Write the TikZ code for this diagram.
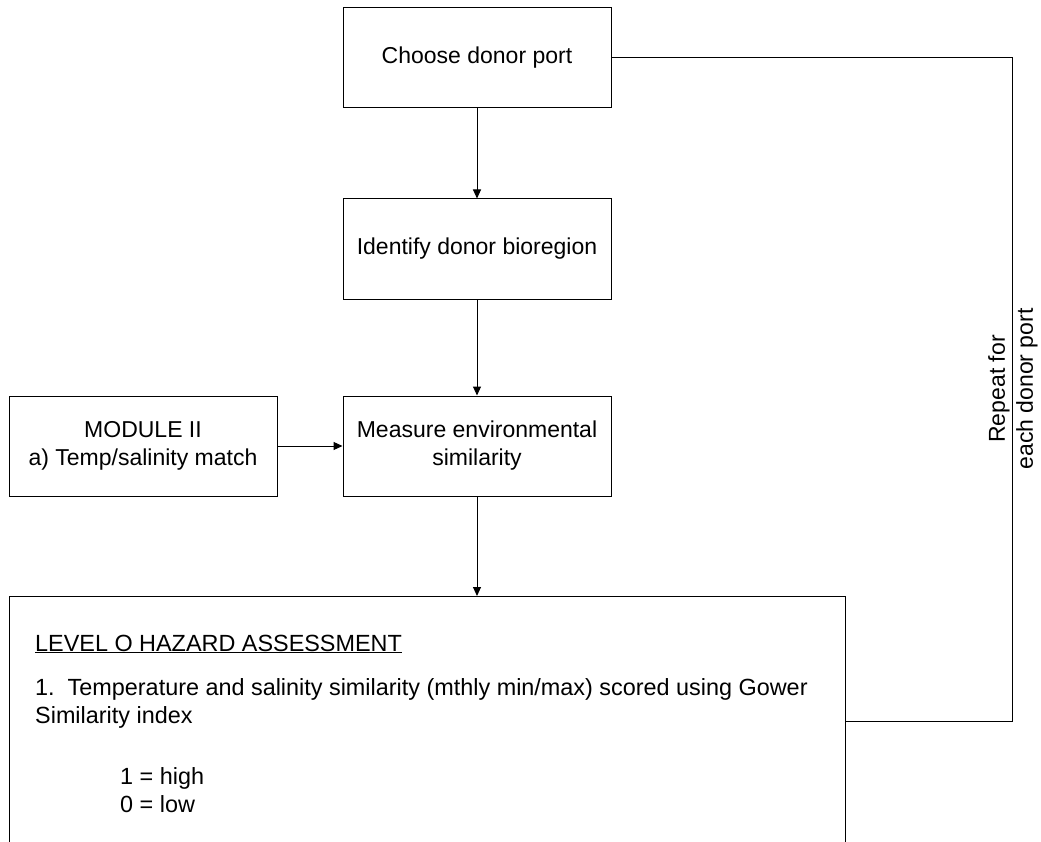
\documentclass[tikz,border=0pt]{standalone}
\usepackage{fontspec}
\setmainfont{Liberation Sans}
\usetikzlibrary{arrows.meta}
\begin{document}
\begin{tikzpicture}[x=1pt,y=-1pt,
  box/.style={draw, line width=1pt, minimum width=268pt, minimum height=100pt,
    inner sep=0pt, align=center, font=\fontsize{23}{28}\selectfont},
  flow/.style={line width=1pt, -{Triangle[width=8pt,length=9pt]}},
  link/.style={line width=1pt},
  txt/.style={anchor=base west, inner sep=0pt, font=\fontsize{23.4}{28}\selectfont}]
\useasboundingbox (0,0) rectangle (1041,842);
\clip (0,0) rectangle (1041,842);

% main chain of steps
\node[box] (choose)   at (477,58)  {Choose donor port};
\node[box] (identify) at (477,249) {Identify donor bioregion};
\node[box] (measure)  at (477,446) {Measure environmental\\similarity};
\node[box] (module)   at (143,446) {MODULE II\\a) Temp/salinity match};

% hazard assessment panel (runs off the lower edge)
\node[draw, line width=1pt, minimum width=836pt, minimum height=320pt,
      anchor=north west, inner sep=0pt] (level) at (9,596) {};
\node[txt] (lvtitle) at (35,651) {\underline{LEVEL O HAZARD ASSESSMENT}};
\node[txt] (lvone)   at (35,695) {1.\ \ Temperature and salinity similarity (mthly min/max) scored using Gower};
\node[txt] (lvtwo)   at (35,723) {Similarity index};
\node[txt] (lvhigh)  at (120,784) {1 = high};
\node[txt] (lvlow)   at (120,812) {0 = low};

% connectors
\draw[flow] (choose) -- (identify);
\draw[flow] (identify) -- (measure);
\draw[flow] (module) -- (measure);
\draw[flow] (measure.south) -- (measure.south |- level.north);

% loop back to the next donor port
\coordinate (turn) at (1012,721);
\draw[link] (level.east |- turn) -- (turn) |- (choose.east);
\node[rotate=90, align=center, inner sep=0pt, font=\fontsize{23}{28}\selectfont]
  (repeat) at (1013,389) {Repeat for\\each donor port};
\end{tikzpicture}
\end{document}
